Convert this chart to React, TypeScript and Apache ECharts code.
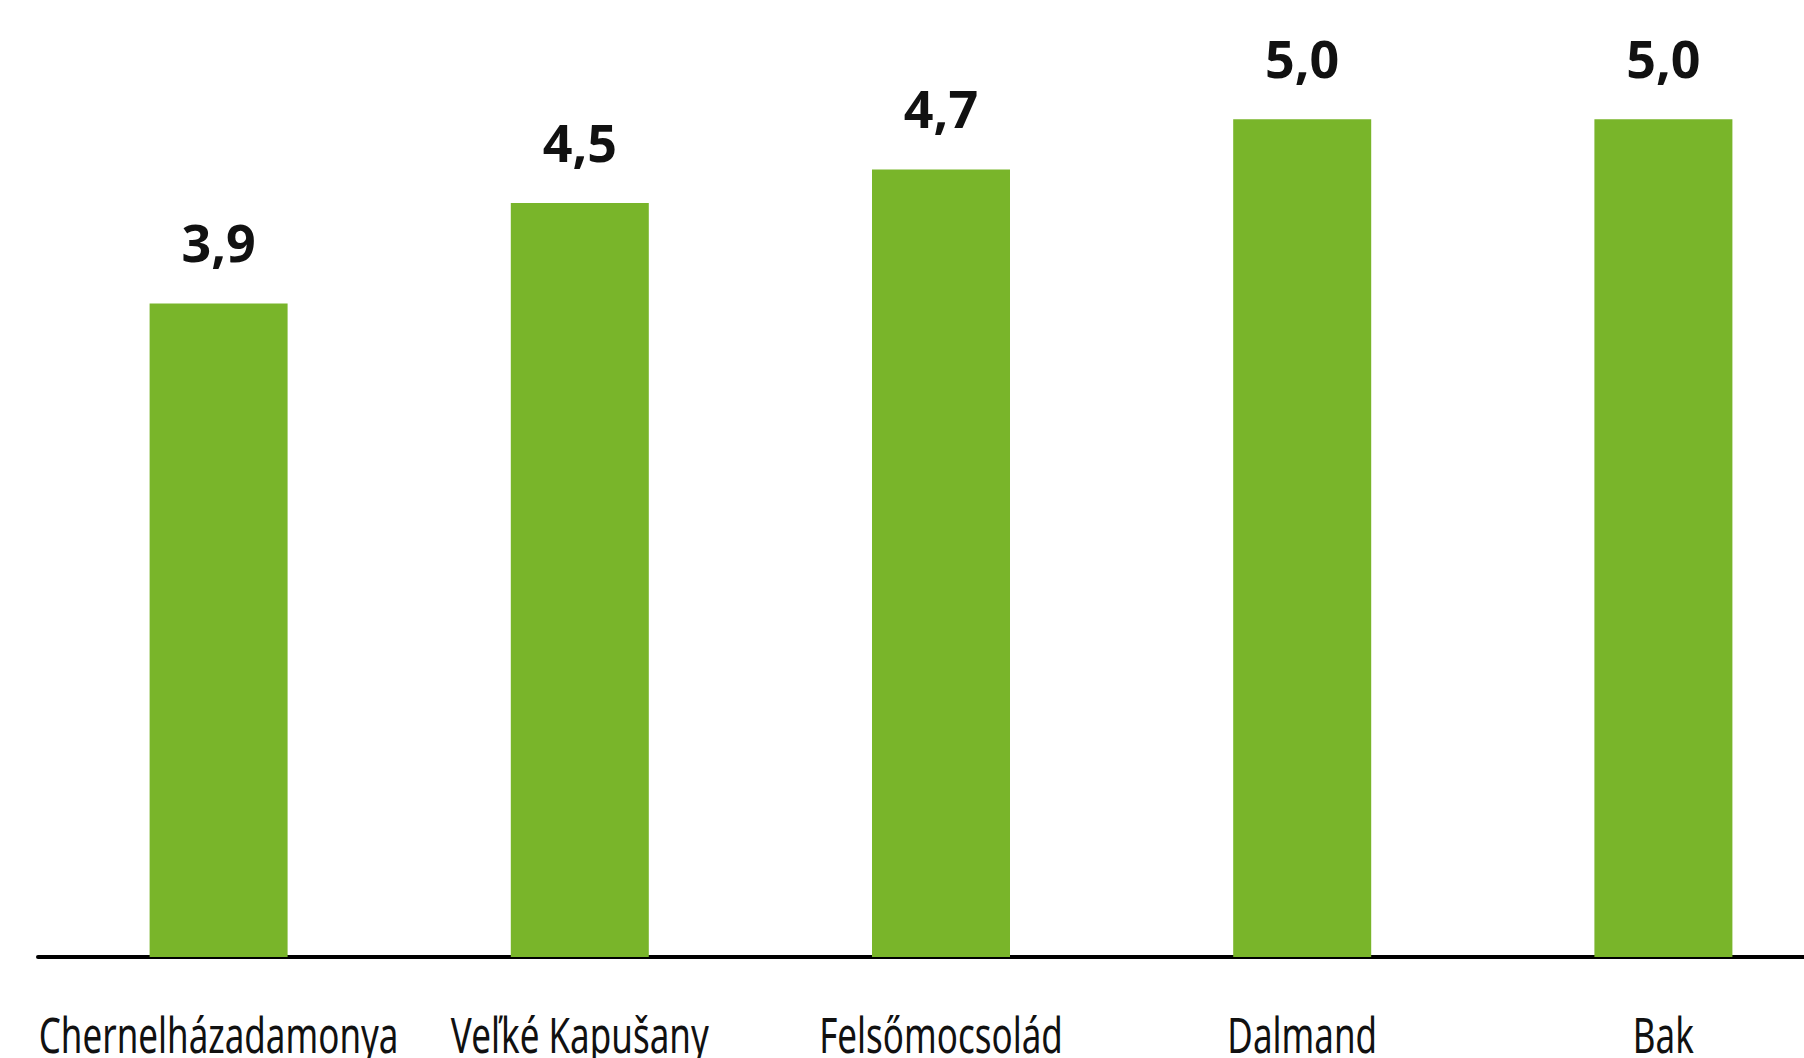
import React, { useEffect, useRef } from "react";
import * as echarts from "echarts";

const categories = ["Chernelházadamonya", "Veľké Kapušany", "Felsőmocsolád", "Dalmand", "Bak"];
const values = [3.9, 4.5, 4.7, 5.0, 5.0];

export default function App() {
  const ref = useRef<HTMLDivElement>(null);
  useEffect(() => {
    if (!ref.current) return;
    const chart = echarts.init(ref.current, null, { renderer: "svg" });
    chart.setOption({
      animation: false,
      backgroundColor: "#ffffff",
      grid: { left: 38, top: 2, width: 1806, bottom: 101, containLabel: false, outerBoundsMode: "none" },
      xAxis: {
        type: "category",
        data: categories,
        axisLine: { show: true, lineStyle: { color: "#000000", width: 4 } },
        axisTick: { show: false },
        axisLabel: { show: false },
      },
      yAxis: {
        type: "value",
        min: 0,
        max: 5.7,
        show: false,
        splitLine: { show: false },
      },
      series: [
        {
          type: "bar",
          data: values,
          barWidth: 138,
          itemStyle: { color: "#79b52a" },
          label: {
            show: true,
            position: "top",
            distance: 36,
            color: "#111111",
            fontSize: 52,
            fontWeight: "bold",
            fontFamily: "'Noto Sans', sans-serif",
            formatter: (p: any) => Number(p.value).toFixed(1).replace(".", ","),
          },
        },
      ],
    });
    // Category labels in a condensed look: positioned from the axis scale
    const baseY = chart.convertToPixel({ yAxisIndex: 0 }, 0) as number;
    const labels = categories.map((name, i) => {
      const cx = chart.convertToPixel({ xAxisIndex: 0 }, i) as number;
      return {
        type: "text",
        x: cx,
        y: baseY + 77,
        scaleX: 0.7,
        silent: true,
        style: {
          text: name,
          fill: "#111111",
          fontSize: 50,
          fontFamily: "'Noto Sans', sans-serif",
          textAlign: "center",
          textVerticalAlign: "middle",
        },
      };
    });
    chart.setOption({ graphic: labels });
    return () => chart.dispose();
  }, []);
  return <div ref={ref} style={{ position: "fixed", left: 0, top: 0, width: 1804, height: 1058 }} />;
}
